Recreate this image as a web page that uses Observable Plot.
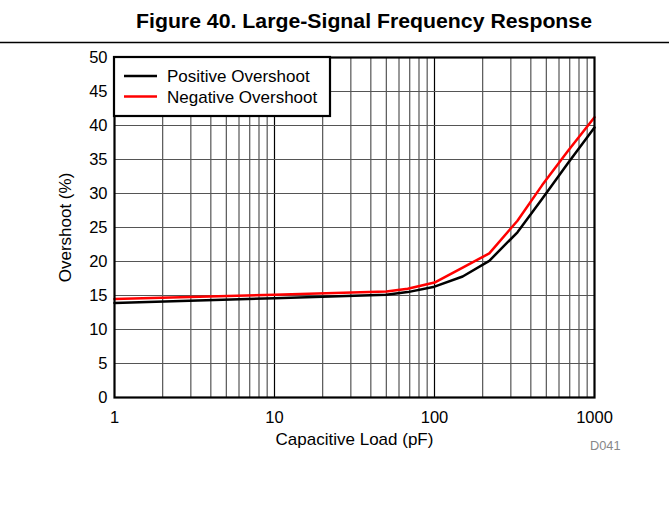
<!DOCTYPE html>
<html>
<head>
<meta charset="utf-8">
<script src="https://cdn.jsdelivr.net/npm/d3@7"></script>
<script src="https://cdn.jsdelivr.net/npm/@observablehq/plot@0.6"></script>
<style>
  body { margin: 0; background: white; }
</style>
</head>
<body>
<div id="chart"></div>
<script>
const loads = [1, 10, 50, 68, 100, 150, 220, 330, 470, 680, 1000];
const positiveOvershoot = [13.9, 14.6, 15.1, 15.5, 16.3, 17.8, 20.1, 24.3, 29.2, 34.4, 39.7];
const negativeOvershoot = [14.5, 15.1, 15.6, 16.0, 16.9, 19.1, 21.2, 26.0, 31.2, 36.2, 41.2];
const xTicks = [1, 10, 100, 1000];
const yTicks = [0, 5, 10, 15, 20, 25, 30, 35, 40, 45, 50];
const minorX = [2,3,4,5,6,7,8,9,20,30,40,50,60,70,80,90,200,300,400,500,600,700,800,900];
const majorX = [10, 100];
const seriesNames = ["Positive Overshoot", "Negative Overshoot"];
const seriesColors = ["#000000", "#ff0000"];

const pos = loads.map((x, i) => ({x, y: positiveOvershoot[i]}));
const neg = loads.map((x, i) => ({x, y: negativeOvershoot[i]}));

const font = "'Liberation Sans', Arial, Helvetica, sans-serif";

const plot = Plot.plot({
  width: 669,
  height: 529,
  marginLeft: 114,
  marginRight: 75,
  marginTop: 57,
  marginBottom: 132,
  style: {fontFamily: font, fontSize: "16.5px", color: "black", background: "white", overflow: "visible"},
  x: {type: "log", domain: [1, 1000]},
  y: {domain: [0, 50]},
  marks: [
    Plot.ruleX(minorX, {stroke: "#555", strokeWidth: 1.2}),
    Plot.ruleX(majorX, {stroke: "#000", strokeWidth: 1.2}),
    Plot.ruleY(yTicks.slice(1, -1), {stroke: "#555", strokeWidth: 1.2}),
    Plot.line(pos, {x: "x", y: "y", stroke: seriesColors[0], strokeWidth: 2.5}),
    Plot.line(neg, {x: "x", y: "y", stroke: seriesColors[1], strokeWidth: 2.5}),
    Plot.frame({stroke: "black", strokeWidth: 2.2}),
    Plot.axisX({ticks: xTicks, tickSize: 0, tickPadding: 14, tickFormat: d => String(d), label: null, fontSize: 16.5}),
    Plot.axisY({ticks: yTicks, tickSize: 0, tickPadding: 7, label: null, fontSize: 16.5}),
    Plot.text(["Capacitive Load (pF)"], {frameAnchor: "bottom", dy: 47, fontSize: 17, fill: "black", textAnchor: "middle"}),
    Plot.text(["Overshoot (%)"], {frameAnchor: "left", dx: -49, rotate: -90, fontSize: 17, fill: "black", textAnchor: "middle"})
  ]
});

document.getElementById("chart").appendChild(plot);

const svg = d3.select(plot);
// title
svg.append("text")
  .attr("x", 364).attr("y", 27.5)
  .attr("text-anchor", "middle")
  .attr("font-family", font)
  .attr("font-weight", "bold")
  .attr("font-size", 19.5)
  .attr("textLength", 456)
  .attr("lengthAdjust", "spacingAndGlyphs")
  .attr("fill", "black")
  .text("Figure 40. Large-Signal Frequency Response");
svg.append("line")
  .attr("x1", 0).attr("x2", 669).attr("y1", 42.5).attr("y2", 42.5)
  .attr("stroke", "black").attr("stroke-width", 1.3);
// legend
const lg = svg.append("g");
lg.append("rect")
  .attr("x", 114).attr("y", 57).attr("width", 216).attr("height", 59)
  .attr("fill", "white").attr("stroke", "black").attr("stroke-width", 2.2);
seriesNames.forEach((name, i) => {
  const y = 76 + i * 20.5;
  lg.append("line").attr("x1", 124).attr("x2", 157).attr("y1", y).attr("y2", y)
    .attr("stroke", seriesColors[i]).attr("stroke-width", 2.5);
  lg.append("text").attr("x", 167).attr("y", y + 6)
    .attr("text-anchor", "start")
    .attr("font-family", font).attr("font-size", 17).attr("fill", "black")
    .text(name);
});
// code label
svg.append("text")
  .attr("x", 590).attr("y", 450)
  .attr("text-anchor", "start")
  .attr("font-family", font).attr("font-size", 12.8).attr("fill", "#888")
  .text("D041");
</script>
</body>
</html>
